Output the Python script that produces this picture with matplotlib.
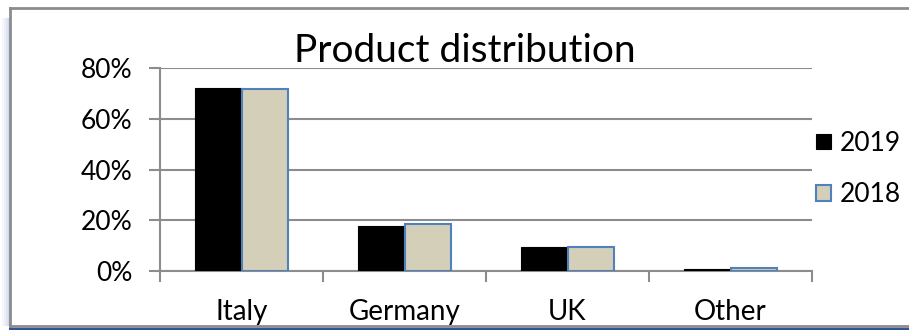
import matplotlib.pyplot as plt
import numpy as np
from matplotlib.patches import Rectangle
from matplotlib.lines import Line2D

categories = ['Italy', 'Germany', 'UK', 'Other']
values_2019 = [72.2, 17.9, 9.3, 0.9]
values_2018 = [71.7, 18.4, 9.6, 1.3]

plt.rcParams['font.family'] = ['Lato', 'DejaVu Sans']

W, H = 909, 330
fig = plt.figure(figsize=(W / 100, H / 100), dpi=100)
ax = fig.add_axes([160 / W, 1 - 271 / H, (812 - 160) / W, (271 - 68) / H])

x = np.arange(len(categories))
bw = 0.285
ax.bar(x - bw / 2, values_2019, bw, color='black', edgecolor='black', linewidth=0.8, label='2019', zorder=3)
ax.bar(x + bw / 2, values_2018, bw, color='#d4cfb8', edgecolor='#4f81bd', linewidth=1.5, label='2018', zorder=3)

ax.set_xlim(-0.5, len(categories) - 0.5)
ax.set_ylim(0, 80)
ax.set_yticks([0, 20, 40, 60, 80])
ax.set_yticklabels(['0%', '20%', '40%', '60%', '80%'])
ax.yaxis.grid(True, color='#8c8c8c', linewidth=1.5, zorder=0)
for s in ['top', 'right']:
    ax.spines[s].set_visible(False)
ax.spines['left'].set_color('#8c8c8c')
ax.spines['left'].set_linewidth(1.5)
ax.spines['bottom'].set_color('#8c8c8c')
ax.spines['bottom'].set_linewidth(1.5)
ax.tick_params(axis='y', length=8, width=1.5, color='#8c8c8c', labelsize=19, pad=12)

# category labels, ticks between groups
ax.set_xticks(x)
ax.set_xticklabels(categories)
ax.tick_params(axis='x', length=0, labelsize=20, pad=20)
ax.set_xticks(np.arange(len(categories) + 1) - 0.5, minor=True)
ax.tick_params(axis='x', which='minor', length=8, width=1.5, color='#8c8c8c')

fig.text(465 / W, 1 - 51 / H, 'Product distribution', ha='center', va='center', fontsize=28)

leg = fig.legend(loc='center left', bbox_to_anchor=(816 / W, 1 - 169 / H), frameon=False,
                 fontsize=19, handlelength=0.55, handleheight=0.55, handletextpad=0.35,
                 labelspacing=1.0, borderpad=0, borderaxespad=0)

# outer frame
fig.add_artist(Line2D([10 / W, 1], [1 - 8 / H, 1 - 8 / H], transform=fig.transFigure, color='#8c8c8c', lw=2))
fig.add_artist(Line2D([10 / W, 10 / W], [1 - 8 / H, 1 - 326 / H], transform=fig.transFigure, color='#8c8c8c', lw=2))
fig.add_artist(Line2D([10 / W, 1], [1 - 326 / H, 1 - 326 / H], transform=fig.transFigure, color='#8c8c8c', lw=2))
fig.add_artist(Line2D([10 / W, 1], [1 - 328.5 / H, 1 - 328.5 / H], transform=fig.transFigure, color='#2f5597', lw=1.5))
for i, a in enumerate([0.5, 0.35, 0.2, 0.1]):
    fig.add_artist(Rectangle(((8 - 2 * i) / W, 1 - 326 / H), 2 / W, 308 / H,
                             transform=fig.transFigure, color='#9fb4e0', alpha=a, lw=0))

fig.savefig('out.png', dpi=100)
